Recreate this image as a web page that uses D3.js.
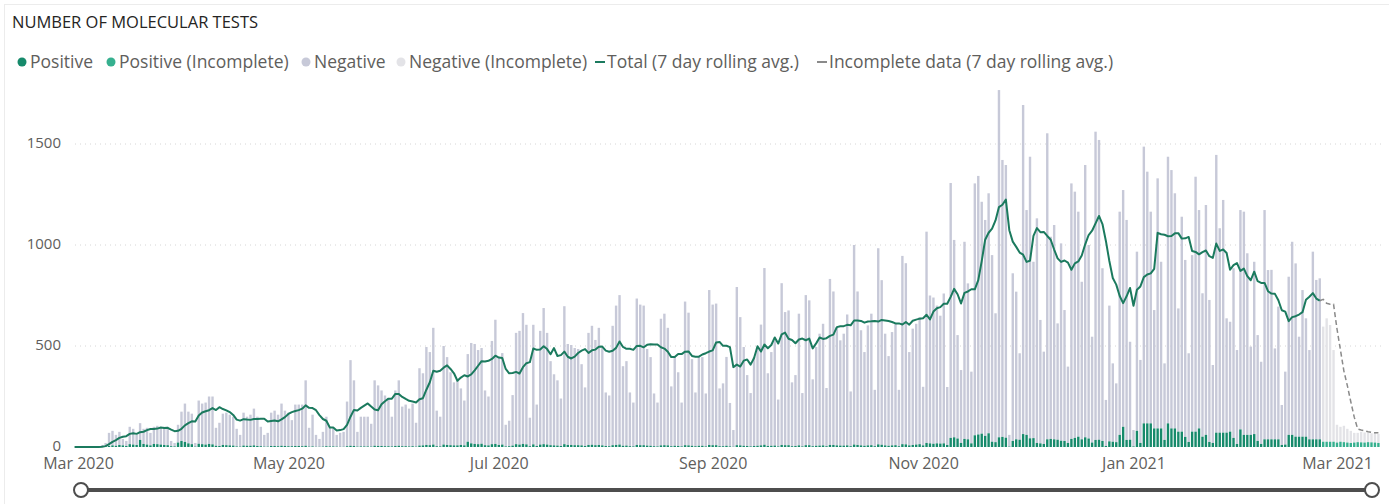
<!DOCTYPE html>
<html>
<head>
<meta charset="utf-8">
<script src="https://cdn.jsdelivr.net/npm/d3@7"></script>
<style>
    body { margin: 0; background: #fff; }
    svg text { font-family: "Segoe UI", "Open Sans", "Noto Sans", sans-serif; }
</style>
</head>
<body>
<svg id="molecular-tests-chart" width="1389" height="504"></svg>
<script>
// daily totals (positive + negative), one row per week, first day is Feb 29 2020
const totals = [
    0, 0, 0, 0, 0, 0, 0,
    0, 10, 20, 70, 80, 60, 75,
    40, 30, 100, 90, 60, 118, 90,
    95, 70, 100, 105, 95, 100, 100,
    30, 20, 110, 175, 215, 175, 165,
    20, 230, 215, 220, 250, 250, 95,
    120, 165, 170, 160, 150, 90, 60,
    170, 150, 160, 190, 150, 100, 60,
    70, 170, 180, 160, 215, 180, 170,
    133, 210, 210, 210, 330, 95, 160,
    60, 40, 75, 150, 95, 95, 60,
    70, 75, 225, 430, 330, 75, 150,
    150, 150, 115, 330, 305, 280, 255,
    240, 150, 280, 330, 200, 210, 190,
    215, 120, 390, 365, 495, 470, 590,
    180, 150, 500, 445, 370, 320, 330,
    290, 230, 460, 515, 510, 480, 490,
    280, 250, 525, 630, 445, 465, 110,
    130, 257, 565, 575, 663, 605, 145,
    605, 210, 575, 688, 565, 425, 360,
    330, 240, 697, 510, 505, 490, 485,
    410, 295, 565, 600, 530, 590, 490,
    270, 255, 600, 700, 752, 400, 425,
    270, 220, 735, 705, 700, 485, 445,
    265, 220, 635, 660, 590, 300, 445,
    370, 220, 720, 665, 435, 270, 450,
    445, 265, 777, 705, 710, 290, 315,
    446, 218, 84, 792, 643, 495, 356,
    267, 446, 495, 606, 886, 365, 470,
    528, 235, 811, 668, 676, 320, 356,
    660, 267, 752, 726, 335, 495, 561,
    610, 292, 832, 770, 594, 528, 561,
    656, 275, 1000, 770, 578, 470, 602,
    660, 283, 984, 826, 561, 450, 569,
    610, 283, 946, 910, 470, 586, 610,
    643, 298, 1066, 750, 740, 700, 650,
    760, 297, 1307, 1025, 554, 381, 1016,
    810, 373, 1305, 1342, 1214, 1124, 1256,
    950, 662, 1767, 1421, 1396, 60, 860,
    769, 464, 1693, 1173, 1437, 917, 1132,
    629, 472, 1553, 1041, 1099, 612, 1008,
    678, 398, 1305, 1264, 1165, 818, 1396,
    1000, 546, 1561, 1520, 885, 233, 700,
    414, 315, 1165, 1272, 1124, 521, 84,
    967, 431, 1487, 1363, 1165, 678, 1330,
    917, 414, 1437, 1371, 1256, 686, 1140,
    926, 464, 950, 1338, 1173, 761, 1198,
    728, 406, 1446, 1083, 1223, 637, 620,
    885, 480, 1173, 1165, 959, 497, 917,
    554, 422, 1173, 876, 877, 488, 695,
    208, 373, 843, 1016, 909, 546, 777,
    637, 480, 967, 827, 835, 596, 637,
    604, 480, 110, 100, 105, 90, 80,
    70, 70, 75, 72, 70, 68, 70,
    65
];

// daily positive results, same days as totals
const positives = [
    0, 0, 0, 0, 0, 0, 0,
    0, 0, 2, 5, 8, 6, 10,
    8, 5, 14, 12, 10, 35, 15,
    12, 8, 15, 14, 12, 10, 9,
    4, 3, 22, 30, 25, 18, 14,
    2, 16, 14, 12, 15, 13, 6,
    5, 10, 9, 8, 7, 3, 2,
    7, 6, 6, 8, 5, 4, 2,
    2, 5, 5, 4, 6, 5, 4,
    4, 5, 5, 4, 6, 2, 3,
    1, 1, 2, 4, 3, 3, 2,
    1, 1, 4, 6, 5, 2, 3,
    3, 3, 2, 6, 5, 5, 4,
    4, 3, 5, 6, 4, 4, 3,
    4, 2, 7, 8, 10, 9, 12,
    4, 3, 12, 10, 9, 8, 8,
    10, 8, 26, 18, 15, 14, 16,
    9, 8, 14, 15, 10, 12, 3,
    4, 7, 14, 12, 15, 13, 4,
    13, 5, 12, 14, 12, 9, 8,
    7, 5, 14, 10, 10, 9, 9,
    8, 5, 10, 11, 9, 10, 8,
    5, 4, 9, 10, 12, 6, 7,
    4, 3, 10, 9, 9, 7, 6,
    4, 3, 8, 9, 8, 4, 6,
    5, 3, 9, 8, 6, 4, 6,
    6, 3, 10, 9, 9, 4, 4,
    6, 3, 1, 9, 8, 6, 5,
    3, 5, 6, 8, 11, 5, 6,
    7, 3, 10, 9, 9, 4, 5,
    8, 3, 9, 9, 4, 6, 7,
    8, 4, 10, 10, 8, 7, 7,
    8, 4, 12, 10, 8, 6, 8,
    9, 4, 13, 11, 8, 6, 8,
    9, 4, 14, 13, 8, 10, 12,
    14, 8, 20, 18, 16, 18, 17,
    18, 10, 45, 48, 42, 20, 40,
    38, 18, 58, 62, 66, 55, 68,
    26, 24, 48, 50, 46, 2, 30,
    38, 36, 64, 60, 43, 44, 20,
    18, 15, 38, 40, 38, 36, 31,
    30, 20, 40, 45, 51, 38, 48,
    42, 22, 35, 36, 30, 5, 28,
    26, 24, 60, 100, 35, 36, 3,
    80, 20, 117, 117, 117, 92, 92,
    92, 35, 117, 92, 92, 76, 76,
    50, 25, 76, 76, 92, 51, 60,
    25, 20, 71, 71, 71, 71, 76,
    45, 15, 87, 60, 60, 60, 64,
    30, 15, 38, 38, 38, 38, 38,
    10, 12, 60, 60, 51, 51, 51,
    51, 38, 38, 38, 38, 26, 26,
    26, 26, 22, 26, 24, 22, 20,
    22, 24, 23, 22, 24, 23, 22,
    20
];

const firstDay = new Date(2020, 1, 29);
const lastCompleteDay = new Date(2021, 1, 24);

const xTickDates = [
    new Date(2020, 2, 1), new Date(2020, 4, 1), new Date(2020, 6, 1),
    new Date(2020, 8, 1), new Date(2020, 10, 1), new Date(2021, 0, 1), new Date(2021, 2, 1)
];
const yTickValues = [0, 500, 1000, 1500];

const legendLabels = [
    "Positive", "Positive (Incomplete)", "Negative", "Negative (Incomplete)",
    "Total (7 day rolling avg.)", "Incomplete data (7 day rolling avg.)"
];
// left edge of each legend entry
const legendStarts = [17, 106, 301, 396, 594, 816];

const colors = {
    positive: "#168a6b",
    positiveIncomplete: "#36b08f",
    negative: "#c7c9d8",
    negativeIncomplete: "#e3e3e7",
    total: "#1b7a5e",
    incompleteLine: "#8a8a8a"
};

const width = 1389;
const height = 504;
const plotLeft = 75;
const plotRight = 1381;
const barWidth = 2.4;

const svg = d3.select("#molecular-tests-chart");

// build one row per day
const data = totals.map(function (t, i) {
    const date = d3.timeDay.offset(firstDay, i);
    return {
        date: date,
        total: t,
        positive: positives[i],
        negative: t - positives[i],
        incomplete: date > lastCompleteDay
    };
});

// 7 day trailing average of the totals
data.forEach(function (d, i) {
    const win = data.slice(Math.max(0, i - 6), i + 1);
    d.avg = d3.mean(win, function (w) { return w.total; });
});

const xScale = d3.scaleTime()
    .domain([new Date(2020, 2, 1), new Date(2021, 2, 1)])
    .range([78, 1337]);

const yScale = d3.scaleLinear()
    .domain([0, 1500])
    .range([447, 144]);

// faint visual border
svg.append("rect")
    .attr("x", 4.5).attr("y", 4.5)
    .attr("width", width + 10).attr("height", height + 10)
    .attr("fill", "none")
    .attr("stroke", "#ececec");

// title
svg.append("text")
    .attr("x", 12)
    .attr("y", 28)
    .attr("font-size", "16.5px")
    .attr("fill", "#252423")
    .text("NUMBER OF MOLECULAR TESTS");

// legend
const legend = svg.append("g").attr("transform", "translate(0, 62)");
legendLabels.forEach(function (label, i) {
    const g = legend.append("g").attr("transform", `translate(${legendStarts[i]}, 0)`);
    if (i < 4) {
        const dotColors = [colors.positive, colors.positiveIncomplete, colors.negative, colors.negativeIncomplete];
        g.append("circle")
            .attr("cx", 5).attr("cy", 0).attr("r", 4.5)
            .attr("fill", dotColors[i]);
    }
    else {
        g.append("line")
            .attr("x1", 1).attr("x2", 11)
            .attr("y1", 0).attr("y2", 0)
            .attr("stroke", i == 4 ? colors.total : colors.incompleteLine)
            .attr("stroke-width", 2);
    }
    g.append("text")
        .attr("x", 13)
        .attr("y", 6)
        .attr("font-size", "17.5px")
        .attr("fill", "#605e5c")
        .text(label);
});

// gridlines
svg.append("g")
    .selectAll("line")
    .data(yTickValues.filter(function (v) { return v > 0; }))
    .join("line")
    .attr("x1", plotLeft).attr("x2", plotRight)
    .attr("y1", function (v) { return yScale(v); })
    .attr("y2", function (v) { return yScale(v); })
    .attr("stroke", "#d6d6d6")
    .attr("stroke-width", 1)
    .attr("stroke-dasharray", "1,4");

// y axis labels
const yAxis = svg.append("g")
    .attr("transform", "translate(61, 0)")
    .call(d3.axisLeft(yScale).tickValues(yTickValues).tickFormat(d3.format("d")).tickSize(0).tickPadding(0));
yAxis.select(".domain").remove();
yAxis.selectAll("text")
    .attr("font-size", "15px")
    .attr("font-family", null)
    .attr("fill", "#605e5c")
    .attr("dy", "0.25em");

// x axis labels
const xAxis = svg.append("g")
    .attr("transform", "translate(0, 456)")
    .call(d3.axisBottom(xScale).tickValues(xTickDates).tickFormat(d3.timeFormat("%b %Y")).tickSize(0).tickPadding(0));
xAxis.select(".domain").remove();
xAxis.selectAll("text")
    .attr("font-size", "16px")
    .attr("font-family", null)
    .attr("fill", "#605e5c")
    .attr("dy", "0.8em");

// negative bars stacked on top of positive bars
svg.append("g")
    .selectAll("rect")
    .data(data)
    .join("rect")
    .attr("x", function (d) { return xScale(d.date) - barWidth / 2; })
    .attr("width", barWidth)
    .attr("y", function (d) { return yScale(d.total); })
    .attr("height", function (d) { return yScale(d.positive) - yScale(d.total); })
    .attr("fill", function (d) { return d.incomplete ? colors.negativeIncomplete : colors.negative; });

svg.append("g")
    .selectAll("rect")
    .data(data)
    .join("rect")
    .attr("x", function (d) { return xScale(d.date) - barWidth / 2; })
    .attr("width", barWidth)
    .attr("y", function (d) { return yScale(d.positive); })
    .attr("height", function (d) { return yScale(0) - yScale(d.positive); })
    .attr("fill", function (d) { return d.incomplete ? colors.positiveIncomplete : colors.positive; });

// rolling average lines
const line = d3.line()
    .x(function (d) { return xScale(d.date); })
    .y(function (d) { return yScale(d.avg); });

const completeData = data.filter(function (d) { return d.date <= lastCompleteDay; });
const incompleteData = data.filter(function (d) { return d.date >= lastCompleteDay; });

svg.append("path")
    .datum(incompleteData)
    .attr("d", line)
    .attr("fill", "none")
    .attr("stroke", colors.incompleteLine)
    .attr("stroke-width", 1.5)
    .attr("stroke-dasharray", "5,3");

svg.append("path")
    .datum(completeData)
    .attr("d", line)
    .attr("fill", "none")
    .attr("stroke", colors.total)
    .attr("stroke-width", 2)
    .attr("stroke-linejoin", "round");

// range slider under the chart
svg.append("line")
    .attr("x1", 81).attr("x2", 1372)
    .attr("y1", 490).attr("y2", 490)
    .attr("stroke", "#4d4d4d")
    .attr("stroke-width", 4);

svg.append("g")
    .selectAll("circle")
    .data([81, 1372])
    .join("circle")
    .attr("cx", function (d) { return d; })
    .attr("cy", 490)
    .attr("r", 7)
    .attr("fill", "#fff")
    .attr("stroke", "#4d4d4d")
    .attr("stroke-width", 2);
</script>
</body>
</html>
